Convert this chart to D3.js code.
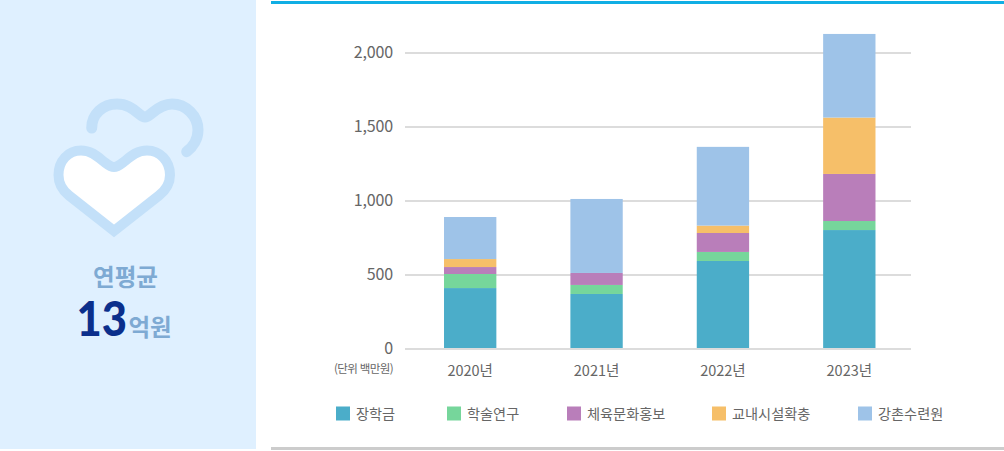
<!DOCTYPE html>
<html lang="ko"><head><meta charset="utf-8">
<script src="https://cdn.jsdelivr.net/npm/d3@7/dist/d3.min.js"></script>
<style>html,body{margin:0;padding:0;background:#fff;overflow:hidden}svg{display:block}text{font-family:"Noto Sans CJK KR","Noto Sans",sans-serif}</style>
</head><body><svg id="c" width="1004" height="451"></svg>
<script>
const years = ["2020년","2021년","2022년","2023년"];
const seriesNames = ["장학금","학술연구","체육문화홍보","교내시설확충","강촌수련원"];
const scholarship = [405,365,588,797];
const research = [95,61,61,61];
const sportsCulture = [47,81,128,318];
const facilities = [54,0,50,381];
const gangchon = [284,500,532,565];
const yTicks = [0,500,1000,1500,2000];
const seriesColors = ["#4badc9","#76d69b","#b97eba","#f6bf69","#9ec3e8"];

const svg = d3.select("#c");
const W = 1004;
const rows = years.map((y,i)=>({year:y,[seriesNames[0]]:scholarship[i],[seriesNames[1]]:research[i],[seriesNames[2]]:sportsCulture[i],[seriesNames[3]]:facilities[i],[seriesNames[4]]:gangchon[i]}));
const stacked = d3.stack().keys(seriesNames)(rows);

// left panel
svg.append("rect").attr("width",256).attr("height",449).attr("fill","#dff0ff");
svg.append("path").attr("fill","none").attr("stroke","#c3e0f9").attr("stroke-width",11).attr("stroke-linecap","round")
 .attr("d","M91.7,128 C91.7,114 103,104 117,104 C127,104 133,109 138,113 C141,115.5 143,117 145,117 C147,117 149,115.5 152,113 C158,108 164,104 172,104 C186,104 198,116 198,130 C198,139 193,147 186.7,151.7");
svg.append("path").attr("fill","#fff").attr("stroke","#c3e0f9").attr("stroke-width",10).attr("stroke-miterlimit",10)
 .attr("d","M114,167 C110,167 107,164 103,161 C96,155 90,150.5 81,150.5 C68,150.5 58.5,161 58.5,175 C58.5,184 62,190 69,195.5 L114,231 L159,195.5 C166,190 170,184 170,175 C170,161 160,150.5 147,150.5 C138,150.5 132,155 125,161 C121,164 118,167 114,167 Z");
svg.append("text").attr("x",125.5).attr("y",285.5).attr("text-anchor","middle").attr("font-size",23.5).attr("font-weight",700).attr("fill","#7eaad3").text("연평균");
svg.append("text").attr("x",76.5).attr("y",336).attr("font-size",47).attr("font-weight",900).attr("fill","#0b2f8c").attr("textLength",50.5).attr("lengthAdjust","spacingAndGlyphs").style("font-family","Lato").text("13");
svg.append("text").attr("x",128.5).attr("y",336).attr("font-size",23.5).attr("font-weight",700).attr("fill","#7eaad3").text("억원");

// frame lines
svg.append("rect").attr("x",271).attr("y",1).attr("width",W-271).attr("height",3).attr("fill","#10aee4");
svg.append("rect").attr("x",271).attr("y",447).attr("width",W-271).attr("height",3).attr("fill","#cccccc");

// scales
const x = d3.scaleBand().domain(years).range([407,912.5]).paddingInner(0.5858).paddingOuter(0.2929);
const y = d3.scaleLinear().domain([0,2000]).range([348,52]);

// y axis labels
const yAxis = d3.axisLeft(y).tickValues(yTicks).tickFormat(d3.format(",")).tickSize(0).tickPadding(0);
const ga = svg.append("g").attr("transform","translate(393,0.5)").call(yAxis);
ga.select(".domain").remove();
ga.selectAll("text").attr("font-size",16).attr("letter-spacing",-0.15).attr("fill","#666").style("font-family",'"Noto Sans CJK KR"');
// grid
svg.append("g").selectAll("line").data(yTicks).join("line")
 .attr("x1",405).attr("x2",911).attr("y1",d=>y(d)+1).attr("y2",d=>y(d)+1).attr("stroke","#dcdcdc").attr("stroke-width",2);

// bars
svg.append("g").selectAll("g").data(stacked).join("g").attr("fill",(d,i)=>seriesColors[i])
 .selectAll("rect").data(d=>d.map(v=>({v,year:v.data.year}))).join("rect")
 .attr("x",d=>x(d.year)).attr("width",x.bandwidth())
 .attr("y",d=>y(d.v[1])).attr("height",d=>y(d.v[0])-y(d.v[1]));

// x axis
const xa = svg.append("g").call(d3.axisBottom(x).tickSize(0).tickPadding(0));
xa.select(".domain").remove();
xa.selectAll("text").attr("y",375.5).attr("dy",0).attr("font-size",14.5).attr("fill","#666").style("font-family",'"Noto Sans CJK KR"');

svg.append("text").attr("x",393).attr("y",373).attr("text-anchor","end").attr("font-size",11.5).attr("fill","#666").attr("letter-spacing",-0.6).text("(단위 백만원)");

// legend
const legendX = [336,447,567,712,858];
const lg = svg.append("g").selectAll("g").data(seriesNames).join("g").attr("transform",(d,i)=>`translate(${legendX[i]},0)`);
lg.append("rect").attr("y",406.5).attr("width",14).attr("height",14).attr("fill",(d,i)=>seriesColors[i]);
lg.append("text").attr("x",20).attr("y",419).attr("font-size",14.2).attr("fill","#666").text(d=>d);
</script></body></html>
